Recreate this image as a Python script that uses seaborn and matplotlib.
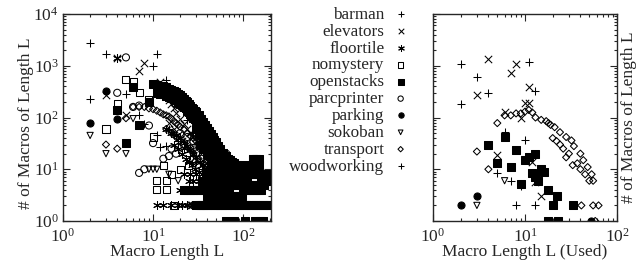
import matplotlib
matplotlib.use("Agg")
import matplotlib.pyplot as plt
import seaborn as sns
import pandas as pd

# ---- left panel: all macros (length L, number of macros) ----
barman_L = [2, 3, 10, 11, 14, 17, 20, 24, 28, 33, 40]
barman_N = [2800, 1700, 1000, 1700, 520, 280, 160, 90, 50, 30, 16]

woodworking_L = [2, 5, 7, 8, 11, 12, 14, 15, 17, 19, 22, 26, 30, 35, 42]
woodworking_N = [230, 280, 110, 75, 45, 27, 28, 60, 45, 35, 25, 18, 14, 10, 6]

elevators_L = [3, 4, 5, 7, 8, 12, 13, 14, 15, 16, 17, 18, 20, 22, 24, 26, 28, 30, 33, 36, 40, 45, 50,
               15, 17, 19, 21, 23, 25, 27, 30, 34, 38]
elevators_N = [270, 1400, 110, 780, 1150, 480, 420, 300, 220, 180, 150, 120, 95, 75, 60, 50, 42, 35, 28, 22, 16, 12, 9,
               80, 60, 45, 35, 30, 25, 20, 15, 12, 10]

floortile_L = [4, 18, 20, 22, 24, 26, 28, 30, 33, 36, 40, 44, 47,
               14, 16, 17, 19, 21, 23, 25, 27, 29, 32,
               11, 13, 16, 19, 21, 24, 27, 30, 34,
               20, 22, 24, 26, 28, 30, 25, 28, 32, 22, 26, 30, 35]
floortile_N = [1400, 45, 40, 32, 28, 24, 20, 17, 14, 12, 10, 8, 3,
               60, 50, 30, 25, 20, 16, 14, 12, 10, 9,
               2, 2, 2, 2, 2, 2, 2, 2, 2,
               4, 4, 4, 4, 4, 4, 6, 6, 6, 8, 8, 8, 8]

nomystery_L = [3, 4, 5, 6, 7, 9, 10, 11, 13, 11, 14, 14, 17, 16, 20, 25]
nomystery_N = [60, 190, 550, 500, 300, 220, 42, 6, 12, 4, 4, 6, 2, 8, 10, 12]

parcprinter_L = [4, 5, 6, 7, 9, 10, 7, 8, 13, 15, 16, 18, 20, 24, 28, 32, 36, 40, 45,
                 22, 26, 30, 34, 38, 42,
                 60, 65, 70, 75, 28, 31, 40, 45]
parcprinter_N = [300, 1450, 160, 170, 70, 32, 8.5, 10, 16, 18, 25, 20, 50, 42, 35, 28, 24, 20, 17,
                 30, 25, 20, 16, 13, 12,
                 18, 20, 16, 13, 2, 2, 8, 8]

parking_L = [2, 3, 4]
parking_N = [80, 330, 95]

sokoban_L = [2, 3, 5, 6, 9, 10, 11, 19, 15]
sokoban_N = [45, 20, 20, 95, 10, 10, 10, 6, 8]

transport_L = [3, 4, 5, 6, 7, 8, 9, 10, 11, 12, 13, 14, 15, 16, 17, 18, 19, 20, 22, 24, 26, 28,
               30, 33, 36, 40, 44, 48, 52, 56, 60,
               14, 16, 18, 20, 22, 25, 28, 32, 36, 40, 45, 25, 28]
transport_N = [30, 25, 97, 160, 160, 160, 150, 145, 135, 125, 115, 110, 105, 95, 85, 78, 72, 66, 58, 50, 44, 40,
               35, 30, 26, 22, 19, 16, 14, 12, 11,
               60, 50, 42, 36, 30, 25, 20, 16, 13, 11, 9, 2, 2]

openstacks_L = [4, 5, 6, 7, 9,
                10, 11, 12, 13, 14, 15, 16, 17, 18, 19, 20, 21, 22, 23, 24, 25, 26, 27, 28, 29, 30,
                32, 34, 36, 38, 40, 42, 44, 46, 48, 50, 53, 56, 60, 64, 68, 72, 76, 80, 85, 90, 95,
                100, 110, 120, 130, 140,
                11, 12, 13, 14, 15, 16, 17, 18, 19, 20, 21, 22, 23, 24, 25, 26, 27, 28, 29, 30,
                32, 34, 36, 38, 40, 42, 44, 46, 48, 50, 53, 56, 60,
                30, 32, 34, 36, 38, 40, 42, 44, 46, 48, 50, 53, 56, 60,
                33, 36, 40, 44, 48, 52, 56, 62,
                44, 48, 52, 56, 62, 68,
                30, 32, 34, 36, 38, 40, 43, 46, 49, 52, 55, 58, 62, 66, 70, 75, 80, 85, 90, 96,
                102, 108, 115, 122, 130, 138, 146, 155, 165, 175, 185, 195,
                40, 44, 48, 52, 56, 60, 65, 70, 75, 80, 86, 92, 98,
                22, 24, 26, 28, 30, 33, 36, 40, 44, 48, 52, 56, 60, 65, 70, 100, 110, 120, 130, 140, 150, 160,
                42, 46, 50, 54, 58, 63, 68, 74, 80, 88, 96, 105, 115, 125, 140, 150, 160, 170,
                35, 40, 45, 50, 55, 60, 70, 80, 90, 100, 110, 160, 170, 180,
                40, 45, 50, 55, 60, 66, 72, 78, 85, 92, 100, 108, 116, 125, 135, 145, 155, 165, 175, 185,
                60, 66, 72, 75, 130, 140, 150, 130, 140, 150,
                65, 80, 105, 137, 155, 165]
openstacks_N = [140, 32, 380, 72, 200,
                450, 430, 410, 400, 380, 360, 345, 330, 310, 290, 270, 250, 230, 210, 195, 180, 165, 155, 145, 135, 125,
                110, 95, 82, 72, 62, 55, 48, 42, 37, 33, 28, 25, 21, 18, 16, 15, 14, 13, 12, 12, 11,
                11, 12, 11, 16, 16,
                300, 290, 280, 265, 250, 240, 230, 215, 200, 185, 175, 160, 150, 135, 125, 115, 108, 100, 95, 88,
                77, 66, 58, 50, 44, 38, 34, 30, 26, 23, 20, 17, 15,
                60, 50, 45, 40, 35, 30, 27, 24, 21, 19, 17, 15, 13, 11,
                30, 25, 20, 16, 13, 11, 9, 8,
                12, 12, 12, 12, 12, 12,
                2, 2, 2, 2, 2, 2, 2, 2, 2, 2, 2, 2, 2, 2, 2, 2, 2, 2, 2, 2,
                2, 2, 2, 2, 2, 2, 2, 2, 2, 2, 2, 2,
                3, 3, 3, 3, 3, 3, 3, 3, 3, 3, 3, 3, 3,
                4, 4, 4, 4, 4, 4, 4, 4, 4, 4, 4, 4, 4, 4, 4, 4, 4, 4, 4, 4, 4, 4,
                5, 5, 5, 5, 5, 5, 5, 5, 5, 5, 5, 5, 5, 5, 5, 5, 5, 5,
                6, 6, 6, 6, 6, 6, 6, 6, 6, 6, 6, 6, 6, 6,
                8, 8, 8, 8, 8, 8, 8, 8, 8, 8, 8, 8, 8, 8, 8, 8, 8, 8, 8, 8,
                10, 10, 10, 12, 12, 12, 12, 16, 16, 16,
                1, 1, 1, 1, 1, 1]

# ---- right panel: macros actually used ----
barman_used_L = [2, 3, 4, 11, 13, 2]
barman_used_N = [1100, 600, 300, 1200, 330, 180]
woodworking_used_L = [5, 6, 7, 8, 9, 10, 13]
woodworking_used_N = [8.5, 52, 6, 2, 4.7, 36, 2]
elevators_used_L = [3, 4, 5, 6, 7, 8, 9, 10, 11, 11, 12, 13, 15]
elevators_used_N = [270, 1350, 19, 128, 720, 1080, 100, 190, 190, 390, 14, 5.7, 3]
transport_used_L = [3, 4, 5, 6, 7, 8, 9, 10, 11, 12, 13, 15, 17, 18, 19, 21, 24, 28, 32, 34, 40, 43, 48, 53, 55,
                    20, 22, 24, 26, 28, 30, 33, 37, 40, 45, 50, 41, 55, 63, 58]
transport_used_N = [22, 10, 78, 110, 110, 120, 120, 130, 140, 125, 100, 90, 85, 78, 72, 65, 52, 42, 36, 28, 20, 15, 11, 8, 6,
                    40, 35, 30, 25, 17, 20, 12, 13, 10, 8, 6, 2, 2, 2, 1]
openstacks_used_L = [4, 5, 6, 7, 8, 9, 10, 11, 12, 13, 13, 14, 15, 16, 18, 22, 20, 18, 23, 33]
openstacks_used_N = [30, 13, 42, 11, 24, 5.2, 15, 17, 8.4, 20, 7, 6, 10, 9, 4, 3, 2, 1, 1, 2]
parking_used_L = [2, 3, 52]
parking_used_N = [2, 3, 1]
sokoban_used_L = [3, 6]
sokoban_used_N = [2, 6]

domains = ["barman", "elevators", "floortile", "nomystery", "openstacks",
           "parcprinter", "parking", "sokoban", "transport", "woodworking"]

all_data = {
    "barman": (barman_L, barman_N), "elevators": (elevators_L, elevators_N),
    "floortile": (floortile_L, floortile_N), "nomystery": (nomystery_L, nomystery_N),
    "openstacks": (openstacks_L, openstacks_N), "parcprinter": (parcprinter_L, parcprinter_N),
    "parking": (parking_L, parking_N), "sokoban": (sokoban_L, sokoban_N),
    "transport": (transport_L, transport_N), "woodworking": (woodworking_L, woodworking_N),
}
used_data = {
    "barman": (barman_used_L, barman_used_N), "elevators": (elevators_used_L, elevators_used_N),
    "openstacks": (openstacks_used_L, openstacks_used_N), "parking": (parking_used_L, parking_used_N),
    "sokoban": (sokoban_used_L, sokoban_used_N), "transport": (transport_used_L, transport_used_N),
    "woodworking": (woodworking_used_L, woodworking_used_N),
}

# marker, face colour (None = line-art marker), size
styles = {
    "barman": ("+", None, 36), "elevators": ("x", None, 28), "floortile": ((6, 2, 0), None, 32),
    "nomystery": ("s", "none", 26), "openstacks": ("s", "black", 30), "parcprinter": ("o", "none", 26),
    "parking": ("o", "black", 26), "sokoban": ("v", "none", 20), "transport": ("D", "none", 13),
    "woodworking": ("+", None, 36),
}

sns.set_style("ticks")
plt.rcParams["font.family"] = ["Liberation Serif", "DejaVu Serif"]
plt.rcParams["mathtext.fontset"] = "stix"
plt.rcParams["font.size"] = 12.5

fig = plt.figure(figsize=(6.36, 2.61), dpi=100)
ax1 = fig.add_axes([63 / 636, 40 / 261, 208 / 636, 207 / 261])
ax2 = fig.add_axes([433 / 636, 40 / 261, 184 / 636, 207 / 261])


def draw(ax, data, legend):
    for d in domains:
        if d not in data:
            continue
        L, N = data[d]
        df = pd.DataFrame({"L": L, "N": N})
        m, fc, s = styles[d]
        kw = dict(marker=m, s=s, linewidth=0.75, label=d if legend else None)
        if fc is None:
            kw["color"] = "black"
        else:
            kw["facecolor"] = fc
            kw["edgecolor"] = "black"
        sns.scatterplot(data=df, x="L", y="N", ax=ax, legend=False, **kw)
    ax.set_xscale("log")
    ax.set_yscale("log")
    ax.set_ylim(1, 1e4)
    ax.tick_params(which="both", direction="in", top=True, right=True, width=0.8)
    ax.tick_params(which="major", length=5)
    ax.tick_params(which="minor", length=2.5)
    ax.tick_params(axis="x", pad=5)
    ax.tick_params(axis="y", pad=3)
    for sp in ax.spines.values():
        sp.set_linewidth(1.0)


draw(ax1, all_data, True)
ax1.set_xlim(1, 204)
ax1.set_xlabel("Macro Length L", labelpad=-1)
ax1.set_ylabel("# of Macros of Length L")
ax1.yaxis.set_label_coords(-0.138, 0.47)

draw(ax2, used_data, False)
ax2.set_xlim(1, 100)
ax2.set_xlabel("Macro Length L (Used)", labelpad=-1)
ax2.set_ylabel("# of Macros of Length L")
ax2.yaxis.set_label_position("right")
ax2.yaxis.set_label_coords(1.02, 0.5)
ax2.tick_params(axis="y", labelleft=False, labelright=False)

handles, labels = ax1.get_legend_handles_labels()
leg = fig.legend(handles, labels, loc="upper right", bbox_to_anchor=(416 / 636, 1.0),
                 frameon=False, handletextpad=0.45, labelspacing=0.05, borderaxespad=0,
                 handlelength=1.0, fontsize=12.3, markerscale=0.75)
vp = leg._legend_box._children[-1]._children[0]
for c in vp._children:
    c._children.reverse()
vp.align = "right"

fig.savefig("out.png", dpi=100)
